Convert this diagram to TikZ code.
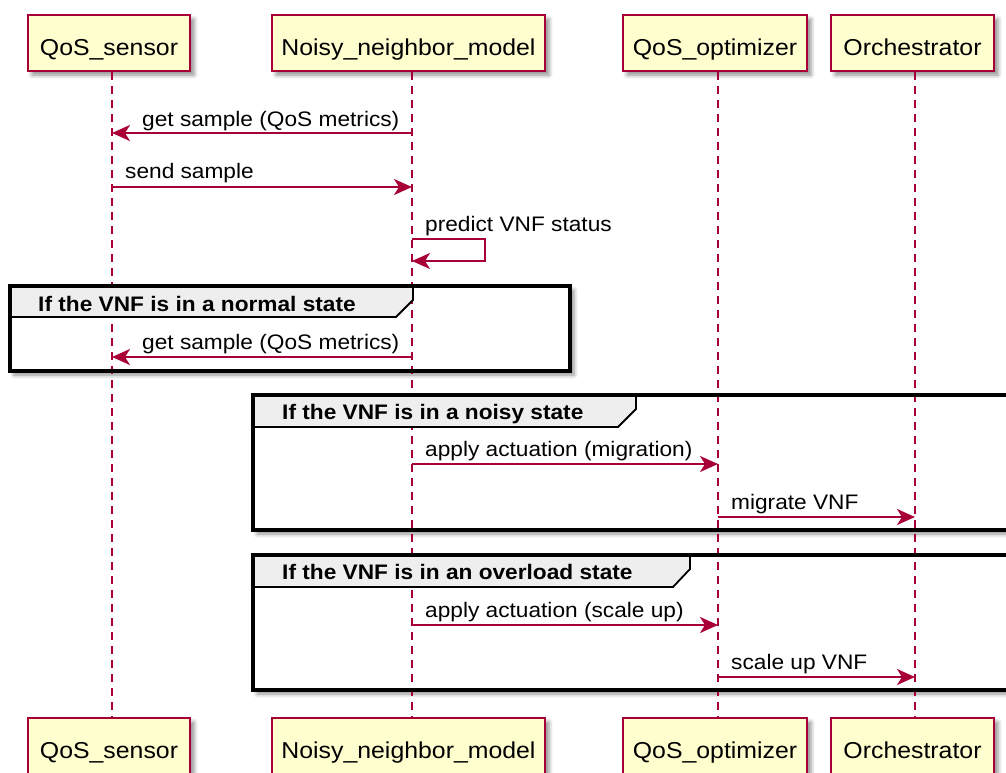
\documentclass[tikz,border=0pt]{standalone}
\usepackage{fontspec}
\setmainfont{Liberation Sans}
\newfontfamily\umlfont[FakeStretch=1.08]{Liberation Sans}
\usetikzlibrary{arrows.meta,shadows.blur}

\definecolor{umlred}{HTML}{A80036}
\definecolor{umlfill}{HTML}{FEFECE}
\definecolor{umltab}{HTML}{EEEEEE}

\tikzset{
  softshadow/.style={blur shadow={shadow xshift=4pt, shadow yshift=-4pt,
      shadow blur radius=4pt, shadow opacity=45}},
  actor/.style={draw=umlred, fill=umlfill, line width=2.5pt, minimum height=56pt,
      inner sep=0pt, text height=24pt, text depth=0pt,
      font=\umlfont\fontsize{23}{27}\selectfont, softshadow},
  life/.style={draw=umlred, line width=1.8pt, dash pattern=on 8pt off 6pt},
  msg/.style={draw=umlred, line width=2pt,
      -{Stealth[length=18pt,width=16pt,inset=5pt]}},
  msgtext/.style={anchor=base west, inner sep=0pt,
      font=\umlfont\fontsize{21}{25}\selectfont},
  grpbg/.style={fill=white, softshadow},
  grpframe/.style={draw=black, line width=3.4pt},
  grptab/.style={draw=black, line width=1.8pt, fill=umltab},
  grptext/.style={anchor=base west, inner sep=0pt,
      font=\umlfont\bfseries\fontsize{21}{25}\selectfont},
}

\begin{document}
\begin{tikzpicture}[x=1pt, y=-1pt]
\path[use as bounding box] (0,0) rectangle (1006,772);
\clip (0,0) rectangle (1006,772);

% lifeline positions
\coordinate (L1) at (112,0);
\coordinate (L2) at (412,0);
\coordinate (L3) at (718,0);
\coordinate (L4) at (915,0);

% group backgrounds with their shadows
\fill[grpbg] (10,286) rectangle (570,371);
\fill[grpbg] (253,395) rectangle (1030,530);
\fill[grpbg] (253,555) rectangle (1030,690);

% participants, top and bottom
\node[actor, minimum width=162pt] (qsT) at (109,43) {QoS\_sensor};
\node[actor, minimum width=273pt] (nnT) at (408.5,43) {Noisy\_neighbor\_model};
\node[actor, minimum width=184pt] (qoT) at (715,43) {QoS\_optimizer};
\node[actor, minimum width=163pt] (orT) at (912.5,43) {Orchestrator};

\node[actor, minimum width=162pt] (qsB) at (109,746) {QoS\_sensor};
\node[actor, minimum width=273pt] (nnB) at (408.5,746) {Noisy\_neighbor\_model};
\node[actor, minimum width=184pt] (qoB) at (715,746) {QoS\_optimizer};
\node[actor, minimum width=163pt] (orB) at (912.5,746) {Orchestrator};

% lifelines
\draw[life] (qsT.south -| L1) -- (qsB.north -| L1);
\draw[life] (nnT.south -| L2) -- (nnB.north -| L2);
\draw[life] (qoT.south -| L3) -- (qoB.north -| L3);
\draw[life] (orT.south -| L4) -- (orB.north -| L4);

% group: normal state
\draw[grptab] (10,286) -- (413,286) -- (413,300) -- (396,317) -- (10,317) -- cycle;
\draw[grpframe] (10,286) rectangle (570,371);
\node[grptext] (g1) at (38,311) {If the VNF is in a normal state};

% group: noisy state
\draw[grptab] (253,395) -- (636,395) -- (636,409) -- (618,427) -- (253,427) -- cycle;
\draw[grpframe] (253,395) rectangle (1030,530);
\node[grptext] (g2) at (282,419) {If the VNF is in a noisy state};

% group: overload state
\draw[grptab] (253,555) -- (690,555) -- (690,569) -- (673,587) -- (253,587) -- cycle;
\draw[grpframe] (253,555) rectangle (1030,690);
\node[grptext] (g3) at (282,579) {If the VNF is in an overload state};

% messages
\draw[msg] (L2 |- 0,133) -- (L1 |- 0,133);
\node[msgtext] (t1) at (142,126) {get sample (QoS metrics)};

\draw[msg] (L1 |- 0,187) -- (L2 |- 0,187);
\node[msgtext] (t2) at (125,178) {send sample};

\draw[msg] (L2 |- 0,239) -- (485,239) -- (485,261) -- (L2 |- 0,261);
\node[msgtext] (t3) at (425,231) {predict VNF status};

\draw[msg] (L2 |- 0,357) -- (L1 |- 0,357);
\node[msgtext] (t4) at (142,349) {get sample (QoS metrics)};

\draw[msg] (L2 |- 0,464) -- (L3 |- 0,464);
\node[msgtext] (t5) at (425,456) {apply actuation (migration)};

\draw[msg] (L3 |- 0,517) -- (L4 |- 0,517);
\node[msgtext] (t6) at (731,509) {migrate VNF};

\draw[msg] (L2 |- 0,625) -- (L3 |- 0,625);
\node[msgtext] (t7) at (425,617) {apply actuation (scale up)};

\draw[msg] (L3 |- 0,677) -- (L4 |- 0,677);
\node[msgtext] (t8) at (731,669) {scale up VNF};
\end{tikzpicture}
\end{document}
